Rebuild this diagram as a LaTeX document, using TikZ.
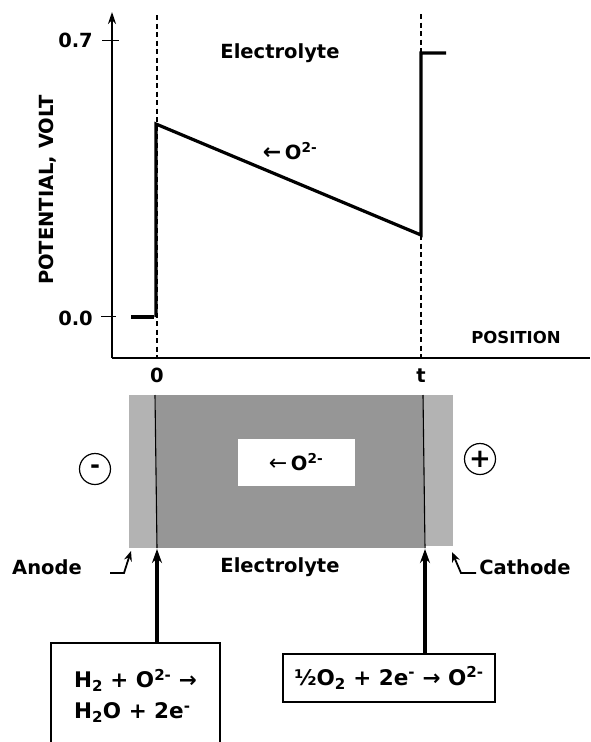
\documentclass[tikz,border=0pt]{standalone}
\usepackage{fontspec}
\setmainfont{DejaVu Sans}
\usetikzlibrary{arrows.meta,positioning}
\definecolor{lightgrey}{HTML}{B3B3B3}
\definecolor{darkgrey}{HTML}{969696}

\begin{document}
\begin{tikzpicture}[x=1pt,y=-1pt,
  font=\bfseries\fontsize{19.5}{24}\selectfont,
  lbl/.style={inner sep=0pt},
  axisline/.style={line width=1.6pt},
  guide/.style={line width=1.4pt,dash pattern=on 5pt off 3.5pt},
  curve/.style={line width=3.2pt},
  eqbox/.style={draw,line width=1.2pt,fill=white,inner sep=0pt,font=\bfseries\fontsize{21.5}{31}\selectfont},
  pointer/.style={line width=1.8pt,-{Stealth[length=10pt,width=8pt]}},
  feed/.style={line width=3.2pt,-{Stealth[length=14pt,width=10pt]}}]
  \useasboundingbox (0,0) rectangle (590,742);
  \clip (0,0) rectangle (590,742);
  % potential plot
  \coordinate (origin) at (112,358);
  \draw[axisline,-{Stealth[length=12pt,width=8pt]}] (origin) -- (112,12);
  \draw[axisline] (origin) -- (590,358);
  \draw[line width=1pt] (102,40) -- (119,40);
  \draw[line width=1pt] (101,316) -- (116,316);
  \node[lbl,anchor=east] (volt07) at (93,40) {0.7};
  \node[lbl,anchor=east] (volt00) at (93,318) {0.0};
  \node[lbl,rotate=90] (ylabel) at (48,190) {POTENTIAL, VOLT};
  \node[lbl,font=\bfseries\fontsize{16.5}{20}\selectfont] (xlabel) at (516,337) {POSITION};
  \node[lbl] (pos0) at (157,375) {0};
  \node[lbl] (post) at (421,376) {t};
  \draw[guide] (157,15) -- (157,358);
  \draw[guide] (421,14) -- (421,358);
  \draw[curve] (131,317) -- (154,317);
  \draw[curve] (156,317) -- (156,124) -- (421,235) -- (421,53) -- (446,53);
  \node[lbl] (elyte) at (280,53) {Electrolyte};
  \node[lbl] (ionflow) at (290,151) {\fontsize{22}{24}\selectfont←\,\fontsize{19.5}{24}\selectfont O\textsuperscript{2-}};
  % cell
  \fill[lightgrey] (129,395) rectangle (156,548);
  \fill[darkgrey] (156,395) rectangle (424,548);
  \fill[lightgrey] (424,395) rectangle (453,546);
  \draw[line width=1.1pt] (155,395) -- (157,548);
  \draw[line width=1.1pt] (423,395) -- (425,548);
  \coordinate (anodeface) at (157,549);
  \coordinate (cathodeface) at (425,549);
  \node[fill=white,minimum width=117pt,minimum height=47pt,inner sep=0pt] (ionbox) at (296,462)
    {\fontsize{22}{24}\selectfont\mdseries←\,\fontsize{19.5}{24}\selectfont\bfseries O\textsuperscript{2-}};
  \node[draw,circle,line width=1.2pt,minimum size=31pt,inner sep=0pt,font=\bfseries\fontsize{24}{24}\selectfont] (minus) at (95,469) {-};
  \node[draw,circle,line width=1.2pt,minimum size=31pt,inner sep=0pt,font=\bfseries\fontsize{26}{26}\selectfont] (plus) at (480,459) {+};
  \node[lbl] (anode) at (47,567) {Anode};
  \node[lbl] (elytecell) at (280,567) {Electrolyte};
  \node[lbl] (cathode) at (525,567) {Cathode};
  \coordinate (anodetip) at (131,551);
  \coordinate (cathodetip) at (452,552);
  \draw[pointer] (110,573) -- ++(14,0) -- (anodetip);
  \draw[pointer] (476,573) -- ++(-15,0) -- (cathodetip);
  % reactions
  \node[eqbox,minimum width=169pt,minimum height=106pt,align=left] (anodeeq) at (135.5,696)
    {H\textsubscript{2} + O\textsuperscript{2-} →\\H\textsubscript{2}O + 2e\textsuperscript{-}};
  \node[eqbox,minimum width=212pt,minimum height=48pt] (cathodeeq) at (389,678)
    {½O\textsubscript{2} + 2e\textsuperscript{-} → O\textsuperscript{2-}};
  \draw[feed] (anodeeq.north -| anodeface) -- (anodeface);
  \draw[feed] (cathodeeq.north -| cathodeface) -- (cathodeface);
\end{tikzpicture}
\end{document}
